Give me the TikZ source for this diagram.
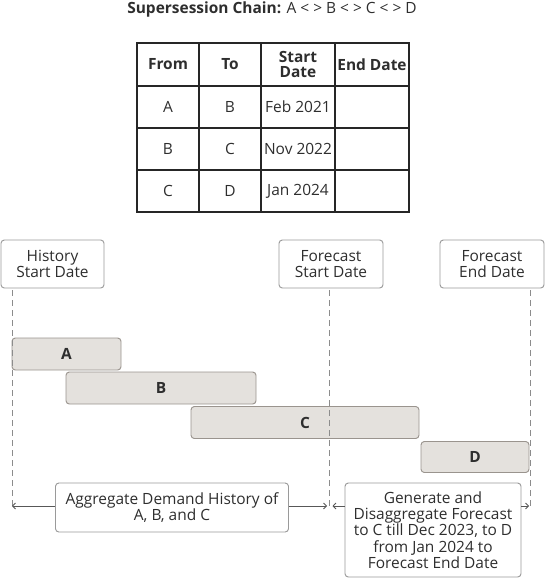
\documentclass[tikz,border=0pt]{standalone}
\usepackage{fontspec}
\setmainfont{Open Sans}
\usetikzlibrary{arrows.meta}
\definecolor{txt}{HTML}{2E2E2E}
\definecolor{bord}{HTML}{9A9A9A}
\definecolor{barfill}{HTML}{E4E1DD}
\definecolor{barbord}{HTML}{9A948E}
\definecolor{dash}{HTML}{8C8C8C}
\begin{document}
\begin{tikzpicture}[x=0.75pt,y=-0.75pt,
  every node/.style={font=\fontsize{11.6}{12.2}\selectfont, text=txt, inner sep=0pt, align=center},
  label box/.style={draw=bord, line width=0.7pt, rounded corners=2.5pt, fill=white},
  bar/.style={draw=barbord, line width=0.7pt, rounded corners=2.5pt, fill=barfill, font=\fontsize{11.6}{12.2}\selectfont\bfseries},
  cell/.style={draw=black!85, line width=1.4pt},
  hcell/.style={cell, font=\fontsize{11.6}{11.6}\selectfont\bfseries},
  guide/.style={draw=dash, line width=0.7pt, dash pattern=on 4.5pt off 3pt},
  span/.style={draw=txt!80, line width=0.6pt, -{Straight Barb[length=2.2pt,width=4.5pt]}}
]
\useasboundingbox (0,0) rectangle (545,578);

% title
\node (title) at (272,9) {\textbf{Supersession Chain:} A < > B < > C < > D};

% table
\newcommand{\tcell}[7]{%
  \node[#6, minimum width=#3*0.75pt, minimum height=#4*0.75pt] (#1) at (#2,#5) {#7};}
\tcell{h1}{168}{62}{43}{64.5}{hcell}{From}
\tcell{h2}{230}{62}{43}{64.5}{hcell}{To}
\tcell{h3}{298}{74}{43}{64.5}{hcell}{Start\\Date}
\tcell{h4}{372}{74}{43}{64.5}{hcell}{End Date}
\tcell{a1}{168}{62}{42}{107}{cell}{A}
\tcell{a2}{230}{62}{42}{107}{cell}{B}
\tcell{a3}{298}{74}{42}{107}{cell}{Feb 2021}
\tcell{a4}{372}{74}{42}{107}{cell}{}
\tcell{b1}{168}{62}{42}{149}{cell}{B}
\tcell{b2}{230}{62}{42}{149}{cell}{C}
\tcell{b3}{298}{74}{42}{149}{cell}{Nov 2022}
\tcell{b4}{372}{74}{42}{149}{cell}{}
\tcell{c1}{168}{62}{42}{191}{cell}{C}
\tcell{c2}{230}{62}{42}{191}{cell}{D}
\tcell{c3}{298}{74}{42}{191}{cell}{Jan 2024}
\tcell{c4}{372}{74}{42}{191}{cell}{}

% date boxes
\node[label box, minimum width=103*0.75pt, minimum height=48*0.75pt] (hsd) at (52.5,264) {History\\Start Date};
\node[label box, minimum width=104*0.75pt, minimum height=48*0.75pt] (fsd) at (331,264) {Forecast\\Start Date};
\node[label box, minimum width=104*0.75pt, minimum height=48*0.75pt] (fed) at (492,264) {Forecast\\End Date};

% guide coordinates
\coordinate (g1t) at (12,290);
\coordinate (g1b) at (12,506);
\coordinate (g2t) at (329.5,290);
\coordinate (g2b) at (329.5,506);
\coordinate (g3t) at (530,290);
\coordinate (g3b) at (530,506);

% bars
\node[bar, minimum width=109*0.75pt, minimum height=32*0.75pt] (A) at (66.5,354) {A};
\node[bar, minimum width=190*0.75pt, minimum height=32*0.75pt] (B) at (161,388) {B};
\node[bar, minimum width=228*0.75pt, minimum height=32*0.75pt] (C) at (305,422.5) {C};
\node[bar, minimum width=108*0.75pt, minimum height=31*0.75pt] (D) at (475,457) {D};

% guides
\draw[guide] (g1t) -- (g1b);
\draw[guide] (g2t) -- (g2b);
\draw[guide] (g3t) -- (g3b);

% bottom boxes
\node[label box, minimum width=233*0.75pt, minimum height=49*0.75pt] (agg) at (172,507.5) {Aggregate Demand History of\\A, B, and C};
\node[label box, minimum width=176*0.75pt, minimum height=94*0.75pt] (gen) at (433,530) {Generate and\\Disaggregate Forecast\\to C till Dec 2023, to D\\from Jan 2024 to\\Forecast End Date};

\coordinate (a1) at (12,506);
\coordinate (a2) at (327,506);
\coordinate (a3) at (332.5,506);
\coordinate (a4) at (529,506);
\draw[span] (agg.west |- a1) -- (a1);
\draw[span] (agg.east |- a2) -- (a2);
\draw[span] (gen.west |- a3) -- (a3);
\draw[span] (gen.east |- a4) -- (a4);
\end{tikzpicture}
\end{document}
